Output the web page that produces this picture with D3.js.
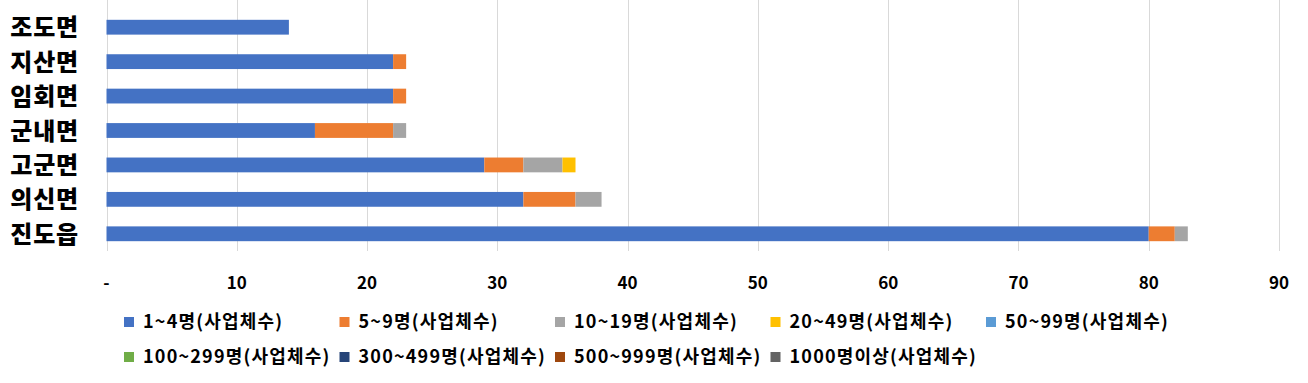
<!DOCTYPE html>
<html>
<head>
<meta charset="utf-8">
<script src="https://cdn.jsdelivr.net/npm/d3@7"></script>
<style>
  body { margin: 0; background: #fff; }
  svg text { font-family: "Noto Sans CJK KR", "Noto Sans", sans-serif; font-weight: bold; fill: #000; }
</style>
</head>
<body>
<div id="chart"></div>
<script>
// categories, top to bottom
var regions = ['조도면', '지산면', '임회면', '군내면', '고군면', '의신면', '진도읍'];

var seriesNames = ['1~4명(사업체수)', '5~9명(사업체수)', '10~19명(사업체수)', '20~49명(사업체수)',
  '50~99명(사업체수)', '100~299명(사업체수)', '300~499명(사업체수)', '500~999명(사업체수)',
  '1000명이상(사업체수)'];

var s1to4 = [14, 22, 22, 16, 29, 32, 80];
var s5to9 = [0, 1, 1, 6, 3, 4, 2];
var s10to19 = [0, 0, 0, 1, 3, 2, 1];
var s20to49 = [0, 0, 0, 0, 1, 0, 0];
var s50to99 = [0, 0, 0, 0, 0, 0, 0];
var s100to299 = [0, 0, 0, 0, 0, 0, 0];
var s300to499 = [0, 0, 0, 0, 0, 0, 0];
var s500to999 = [0, 0, 0, 0, 0, 0, 0];
var s1000up = [0, 0, 0, 0, 0, 0, 0];

var xTicks = [0, 10, 20, 30, 40, 50, 60, 70, 80, 90];

var colors = ['#4472C4', '#ED7D31', '#A5A5A5', '#FFC000', '#5B9BD5', '#70AD47', '#264478', '#9E480E', '#636363'];

var allSeries = [s1to4, s5to9, s10to19, s20to49, s50to99, s100to299, s300to499, s500to999, s1000up];

var width = 1308, height = 383;
var margin = {left: 106.5, right: 29, top: 10, bottom: 132};

var rows = regions.map(function(r, i) {
  var o = {region: r};
  seriesNames.forEach(function(s, j) { o[s] = allSeries[j][i]; });
  return o;
});

var stacked = d3.stack().keys(seriesNames)(rows);

var x = d3.scaleLinear().domain([0, 90]).range([margin.left, width - margin.right]);
var y = d3.scaleBand().domain(regions).range([margin.top, height - margin.bottom]).paddingInner(0.57).paddingOuter(0.285);

var svg = d3.select('#chart').append('svg')
  .attr('width', width).attr('height', height);

// gridlines
svg.append('g').selectAll('line')
  .data(xTicks).enter().append('line')
  .attr('x1', function(d) { return Math.round(x(d)) + 0.5; })
  .attr('x2', function(d) { return Math.round(x(d)) + 0.5; })
  .attr('y1', 0)
  .attr('y2', height - margin.bottom)
  .attr('stroke', '#d9d9d9')
  .attr('stroke-width', 1);

// bars
svg.append('g').selectAll('g')
  .data(stacked).enter().append('g')
  .attr('fill', function(d, i) { return colors[i]; })
  .selectAll('rect')
  .data(function(d) { return d; }).enter().append('rect')
  .attr('x', function(d) { return x(d[0]); })
  .attr('y', function(d) { return y(d.data.region); })
  .attr('width', function(d) { return x(d[1]) - x(d[0]); })
  .attr('height', y.bandwidth());

// x axis labels
svg.append('g').selectAll('text')
  .data(xTicks).enter().append('text')
  .attr('x', function(d) { return x(d); })
  .attr('y', 289)
  .attr('text-anchor', 'middle')
  .style('font-size', '17px')
  .text(function(d) { return d === 0 ? '-' : d; });

// category labels
svg.append('g').selectAll('text')
  .data(regions).enter().append('text')
  .attr('x', 79)
  .attr('y', function(d) { return y(d) + y.bandwidth() / 2; })
  .attr('dy', '0.38em')
  .attr('text-anchor', 'end')
  .style('font-size', '24px')
  .style('letter-spacing', '0.8px')
  .style('font-weight', 900)
  .text(function(d) { return d; });

// legend
var legend = svg.append('g').selectAll('g')
  .data(seriesNames).enter().append('g')
  .attr('transform', function(d, i) {
    var col = i % 5, row = Math.floor(i / 5);
    return 'translate(' + (124 + col * 215.5) + ',' + (322 + row * 35) + ')';
  });

legend.append('rect')
  .attr('x', 0).attr('y', -5)
  .attr('width', 10).attr('height', 10)
  .attr('fill', function(d, i) { return colors[i]; });

legend.append('text')
  .attr('x', 19).attr('y', 0)
  .attr('dy', '0.36em')
  .style('font-size', '18px')
  .style('letter-spacing', '1.2px')
  .text(function(d) { return d; });
</script>
</body>
</html>
